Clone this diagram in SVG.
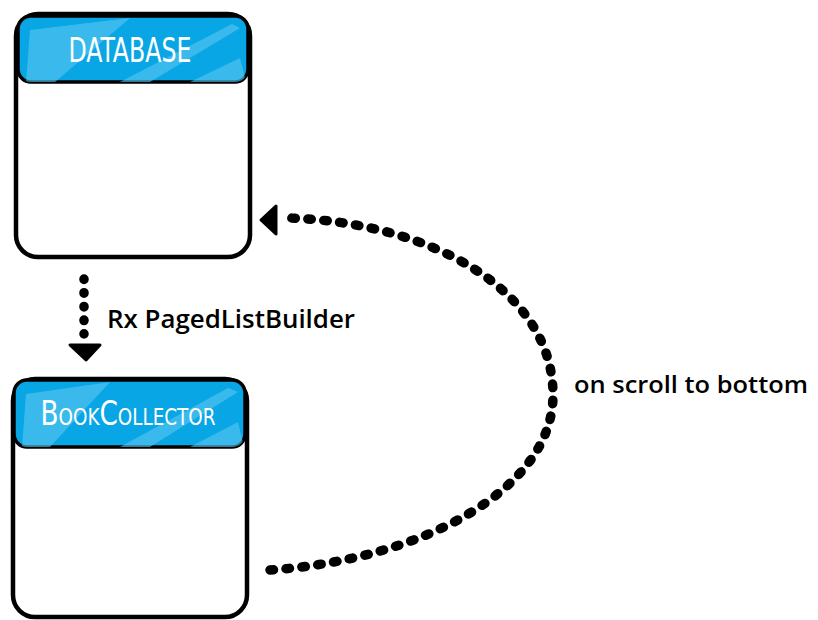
<svg xmlns="http://www.w3.org/2000/svg" width="818" height="620" viewBox="0 0 818 620">
<style>
.box{fill:#fff;stroke:#000;stroke-width:4.5}
.hdr{fill:#08a6e4;stroke:#000;stroke-width:3.5}
.stripe{fill:#5cc8f1;opacity:0.6}
.title{font-family:"DejaVu Sans Condensed","Liberation Sans Narrow","Liberation Sans",sans-serif;fill:#fff;font-size:33px;text-anchor:middle}
.lbl{font-family:"Open Sans","Liberation Sans",sans-serif;fill:#000;font-size:26px;font-weight:600}
.dots{fill:none;stroke:#000;stroke-width:9.5;stroke-linecap:round}
</style>
<defs>
<clipPath id="c1"><rect x="18" y="16" width="230" height="66" rx="13"/></clipPath>
<clipPath id="c2"><rect x="14" y="380" width="231" height="67" rx="13"/></clipPath>
</defs>
<g id="database">
<rect class="box" x="16" y="14" width="234" height="243" rx="22"/>
<rect class="hdr" x="18" y="16" width="230" height="66" rx="13"/>
<g clip-path="url(#c1)">
<polygon class="stripe" points="30,30 130,18 55,82 26,82"/>
<polygon class="stripe" points="120,82 232,24 240,28 150,82"/>
<polygon class="stripe" points="190,82 240,58 246,82"/>
</g>
<text class="title" x="130" y="62" textLength="123" lengthAdjust="spacingAndGlyphs">DATABASE</text>
</g>
<g id="bookcollector">
<rect class="box" x="13" y="379" width="234" height="238" rx="22"/>
<rect class="hdr" x="14" y="380" width="231" height="67" rx="13"/>
<g clip-path="url(#c2)">
<polygon class="stripe" points="26,394 110,382 50,447 22,447"/>
<polygon class="stripe" points="120,447 228,388 238,392 150,447"/>
<polygon class="stripe" points="190,447 238,422 244,447"/>
</g>
<text class="title" x="128" y="425" textLength="175" lengthAdjust="spacingAndGlyphs" style="font-variant:small-caps">BookCollector</text>
</g>
<g id="connectors">
<path class="dots" d="M84 279 L84 334" stroke-dasharray="0.5 13.2" stroke-width="10"/>
<polygon points="70,345 100,345 86,360" fill="#000" stroke="#000" stroke-width="3" stroke-linejoin="round"/>
<path class="dots" d="M270 570 C 420 560 553 490 553 395 C 553 290 430 222 288 218" stroke-dasharray="3.5 12.5"/>
<polygon points="261,220 276,206 276,234" fill="#000" stroke="#000" stroke-width="3" stroke-linejoin="round"/>
<text class="lbl" x="107" y="328" textLength="248" lengthAdjust="spacingAndGlyphs">Rx PagedListBuilder</text>
<text class="lbl" x="574" y="393" textLength="234" lengthAdjust="spacingAndGlyphs" style="font-size:23px">on scroll to bottom</text>
</g>
</svg>
